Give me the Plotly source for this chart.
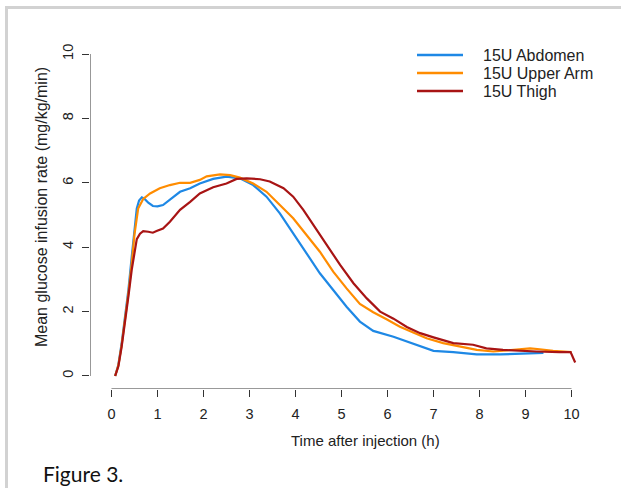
import plotly.graph_objects as go

# ---------------- data ----------------
series_names = ["15U Abdomen", "15U Upper Arm", "15U Thigh"]
series_colors = ["#1E88E5", "#FF8C00", "#A81414"]

abdomen_t = [0.08, 0.15, 0.22, 0.30, 0.37, 0.44, 0.50, 0.55, 0.60, 0.66, 0.72, 0.80, 0.90, 1.00,
             1.12, 1.27, 1.49, 1.71, 1.92, 2.21, 2.50, 2.79, 3.08, 3.37, 3.66, 3.95, 4.24, 4.53,
             4.82, 5.11, 5.40, 5.69, 6.13, 6.42, 6.71, 7.00, 7.43, 7.94, 8.45, 8.88, 9.39]
abdomen_v = [0.0, 0.35, 1.0, 1.85, 2.7, 3.7, 4.6, 5.2, 5.45, 5.55, 5.5, 5.38, 5.28, 5.27,
             5.31, 5.47, 5.72, 5.83, 5.98, 6.12, 6.19, 6.14, 5.93, 5.57, 5.05, 4.43, 3.81, 3.19,
             2.67, 2.15, 1.69, 1.40, 1.22, 1.07, 0.91, 0.78, 0.74, 0.67, 0.67, 0.70, 0.72]

upperarm_t = [0.08, 0.15, 0.22, 0.30, 0.37, 0.44, 0.50, 0.58, 0.69, 0.84, 1.05, 1.27, 1.49, 1.71,
              1.92, 2.07, 2.36, 2.58, 2.79, 3.08, 3.37, 3.66, 3.95, 4.24, 4.53, 4.82, 5.11, 5.40,
              5.69, 5.98, 6.27, 6.56, 6.85, 7.21, 7.57, 7.94, 8.30, 8.66, 9.10, 9.31, 9.60, 10.0]
upperarm_v = [0.0, 0.33, 0.95, 1.8, 2.6, 3.5, 4.4, 5.2, 5.5, 5.67, 5.83, 5.93, 6.0, 6.0,
              6.09, 6.2, 6.26, 6.24, 6.16, 5.98, 5.72, 5.31, 4.90, 4.38, 3.86, 3.24, 2.72, 2.24,
              1.98, 1.76, 1.53, 1.35, 1.17, 1.02, 0.91, 0.81, 0.76, 0.81, 0.86, 0.83, 0.78, 0.74]

thigh_t = [0.08, 0.15, 0.22, 0.30, 0.37, 0.44, 0.50, 0.55, 0.62, 0.69, 0.80, 0.90, 0.98, 1.12,
           1.27, 1.49, 1.71, 1.92, 2.21, 2.50, 2.72, 2.94, 3.23, 3.44, 3.74, 3.95, 4.17, 4.39,
           4.68, 4.97, 5.26, 5.55, 5.84, 6.13, 6.42, 6.71, 7.00, 7.43, 7.86, 8.15, 8.51, 8.88,
           9.24, 9.74, 9.98, 10.08]
thigh_v = [0.0, 0.3, 0.9, 1.7, 2.5, 3.3, 3.9, 4.25, 4.42, 4.5, 4.48, 4.45, 4.5, 4.58,
           4.79, 5.16, 5.41, 5.67, 5.86, 5.98, 6.12, 6.14, 6.11, 6.04, 5.83, 5.57, 5.16, 4.69,
           4.07, 3.45, 2.88, 2.41, 2.0, 1.78, 1.52, 1.33, 1.2, 1.02, 0.97, 0.86, 0.81, 0.78,
           0.76, 0.74, 0.74, 0.42]

x_ticks = list(range(0, 11))
y_ticks = [0, 2, 4, 6, 8, 10]
x_title = "Time after injection (h)"
y_title = "Mean glucose infusion rate (mg/kg/min)"
caption = "Figure 3."

# ---------------- layout geometry ----------------
W, H = 621, 488
L, R, T, B = 90, 598, 41, 389
x_range = [-0.467, 10.576]
y_range = [-0.404, 10.404]


def px(xpix):
    return (xpix - L) / (R - L)


def py(ypix):
    return (B - ypix) / (B - T)


FONT = "Liberation Sans, Arial, sans-serif"
TXT = "#222222"
AX = "#333333"

fig = go.Figure()
all_t = [abdomen_t, upperarm_t, thigh_t]
all_v = [abdomen_v, upperarm_v, thigh_v]
for name, col, t, v in zip(series_names, series_colors, all_t, all_v):
    fig.add_trace(go.Scatter(x=t, y=v, mode="lines", name=name,
                             line=dict(color=col, width=2.2), showlegend=False))

axis_common = dict(showgrid=False, zeroline=False, showline=False, ticks="outside",
                   ticklen=7, tickwidth=1, tickcolor=AX,
                   tickfont=dict(family=FONT, size=14.5, color=TXT))
fig.update_xaxes(range=x_range, tickvals=x_ticks, ticklabelstandoff=5, **axis_common)
fig.update_yaxes(range=y_range, tickvals=y_ticks, tickangle=-90, ticklabelstandoff=3,
                 **axis_common)

shapes = [
    # R-style axis lines spanning first..last tick
    dict(type="line", xref="x", yref="y", x0=x_ticks[0], x1=x_ticks[-1],
         y0=y_range[0], y1=y_range[0], line=dict(color=AX, width=1)),
    dict(type="line", xref="x", yref="y", x0=x_range[0], x1=x_range[0],
         y0=y_ticks[0], y1=y_ticks[-1], line=dict(color=AX, width=1)),
    # outer light-grey frame (top and left)
    dict(type="line", xref="paper", yref="paper", x0=px(6), x1=px(W + 5),
         y0=py(7.5), y1=py(7.5), line=dict(color="#d2d2d2", width=3)),
    dict(type="line", xref="paper", yref="paper", x0=px(6.5), x1=px(6.5),
         y0=py(6), y1=py(H + 5), line=dict(color="#d2d2d2", width=3)),
]

annotations = [
    dict(text=x_title, xref="paper", yref="paper", x=px(365), y=py(440),
         showarrow=False, font=dict(family=FONT, size=15, color=TXT),
         xanchor="center", yanchor="middle"),
    dict(text=y_title, xref="paper", yref="paper", x=px(41), y=py(207),
         showarrow=False, textangle=-90, font=dict(family=FONT, size=16, color=TXT),
         xanchor="center", yanchor="middle"),
    dict(text=caption, xref="paper", yref="paper", x=px(41), y=py(459),
         showarrow=False, font=dict(family="Lato, Open Sans, sans-serif", size=21, color="#111111"),
         xanchor="left", yanchor="top"),
]

# manual R-style legend
legend_rows = [55, 73, 91]
for name, col, ry in zip(series_names, series_colors, legend_rows):
    shapes.append(dict(type="line", xref="paper", yref="paper", x0=px(417), x1=px(463),
                       y0=py(ry), y1=py(ry), line=dict(color=col, width=2.5)))
    annotations.append(dict(text=name, xref="paper", yref="paper", x=px(481), y=py(ry),
                            showarrow=False, xanchor="left", yanchor="middle",
                            font=dict(family=FONT, size=16, color=TXT)))

fig.update_layout(width=W, height=H, margin=dict(l=L, r=W - R, t=T, b=H - B),
                  paper_bgcolor="white", plot_bgcolor="white",
                  shapes=shapes, annotations=annotations, showlegend=False)

fig.write_html("out.html", config={"displayModeBar": False},
               post_script="document.body.style.margin='0';document.body.style.overflow='hidden';")
